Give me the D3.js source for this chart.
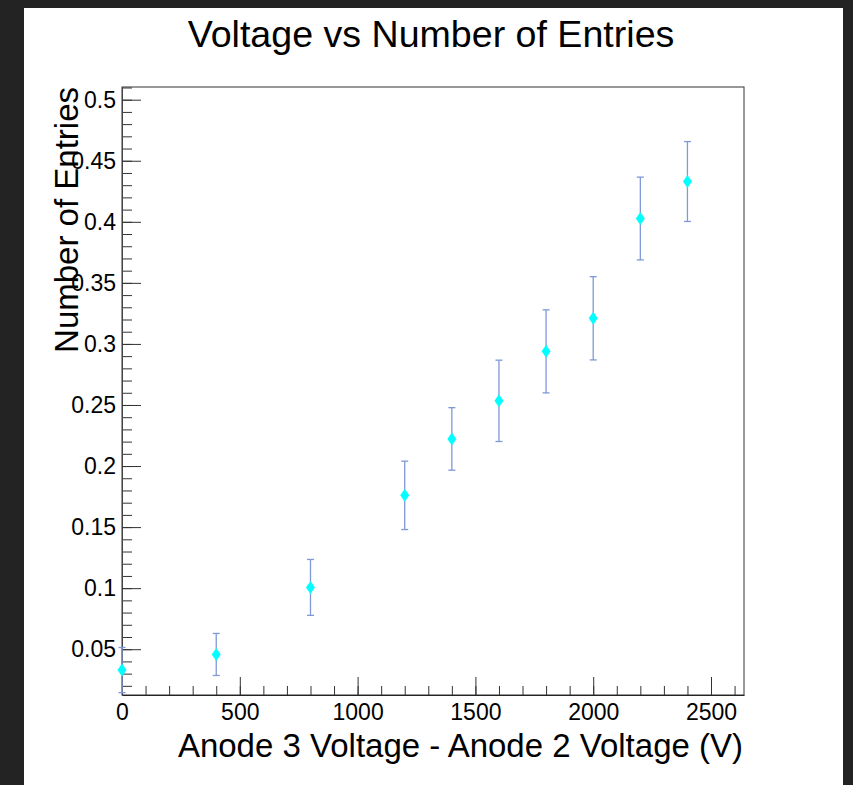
<!DOCTYPE html>
<html>
<head>
<meta charset="utf-8">
<script src="https://cdn.jsdelivr.net/npm/d3@7"></script>
<style>
  body { margin: 0; background: #232323; }
  svg { display: block; }
  text { font-family: "Liberation Sans", Arial, Helvetica, sans-serif; fill: #000; }
</style>
</head>
<body>
<div id="chart-area"></div>
<script>
// data
const voltages = [0, 400, 800, 1200, 1400, 1600, 1800, 2000, 2200, 2400];
const entries = [0.0329, 0.0457, 0.1006, 0.176, 0.2222, 0.2534, 0.2939, 0.321, 0.4027, 0.433];
const errors = [0.0185, 0.0172, 0.0229, 0.028, 0.0256, 0.0333, 0.034, 0.0341, 0.0339, 0.0327];
const xTicks = [0, 500, 1000, 1500, 2000, 2500];
const yTicks = [0.05, 0.1, 0.15, 0.2, 0.25, 0.3, 0.35, 0.4, 0.45, 0.5];
const yTickLabels = ["0.05", "0.1", "0.15", "0.2", "0.25", "0.3", "0.35", "0.4", "0.45", "0.5"];

const W = 853, H = 785;
const margin = { left: 122, right: 109, top: 87, bottom: 90 };
const width = W - margin.left - margin.right;
const height = H - margin.top - margin.bottom;

const svg = d3.select("#chart-area")
  .append("svg")
    .attr("width", W)
    .attr("height", H);

// white canvas on dark window
svg.append("rect")
  .attr("x", 24).attr("y", 8)
  .attr("width", 819).attr("height", 777)
  .attr("fill", "#fff");

const g = svg.append("g")
  .attr("transform", "translate(" + margin.left + "," + margin.top + ")");

const x = d3.scaleLinear()
  .domain([0, 2640])
  .range([0, width]);

const y = d3.scaleLinear()
  .domain([0.0125, 0.5104])
  .range([height, 0]);

// frame
g.append("rect")
  .attr("width", width).attr("height", height)
  .attr("fill", "none")
  .attr("stroke", "#333")
  .attr("stroke-width", 1);

// minor ticks
g.append("g")
  .attr("transform", "translate(0," + height + ")")
  .call(d3.axisBottom(x).tickValues(d3.range(0, 2700, 100)).tickSize(-9).tickSizeOuter(0).tickFormat(""))
  .call(s => s.select(".domain").remove())
  .selectAll("line").attr("stroke", "#333");

g.append("g")
  .call(d3.axisLeft(y).tickValues(d3.range(2, 52).map(d => d / 100)).tickSize(-10).tickSizeOuter(0).tickFormat(""))
  .call(s => s.select(".domain").remove())
  .selectAll("line").attr("stroke", "#333");

// major ticks + labels
const xAxisCall = d3.axisBottom(x)
  .tickValues(xTicks)
  .tickSize(-18)
  .tickSizeOuter(0)
  .tickPadding(9)
  .tickFormat(d3.format("d"));
const xAxis = g.append("g")
  .attr("class", "x axis")
  .attr("transform", "translate(0," + height + ")")
  .call(xAxisCall);
xAxis.selectAll("line").attr("stroke", "#333");
xAxis.select(".domain").attr("stroke", "#222");
xAxis.selectAll("text").attr("font-size", "23px").attr("font-family", null);

const yAxisCall = d3.axisLeft(y)
  .tickValues(yTicks)
  .tickSize(-19)
  .tickSizeOuter(0)
  .tickPadding(6)
  .tickFormat((d, i) => yTickLabels[i]);
const yAxis = g.append("g")
  .attr("class", "y axis")
  .call(yAxisCall);
yAxis.selectAll("line").attr("stroke", "#333");
yAxis.select(".domain").attr("stroke", "#444");
yAxis.selectAll("text").attr("font-size", "23px").attr("font-family", null);

// titles
svg.append("text")
  .attr("x", 431)
  .attr("y", 47)
  .attr("font-size", "37.6px")
  .attr("text-anchor", "middle")
  .text("Voltage vs Number of Entries");

g.append("text")
  .attr("class", "x axis-label")
  .attr("x", width - 1)
  .attr("y", height + 62)
  .attr("font-size", "33px")
  .attr("text-anchor", "end")
  .text("Anode 3 Voltage - Anode 2 Voltage (V)");

g.append("text")
  .attr("class", "y axis-label")
  .attr("x", 0)
  .attr("y", -44)
  .attr("font-size", "33px")
  .attr("text-anchor", "end")
  .attr("transform", "rotate(-90)")
  .text("Number of Entries");

// error bars
const pts = voltages.map((v, i) => ({ v: v, e: entries[i], err: errors[i] }));
const bars = g.selectAll(".err").data(pts).enter().append("g").attr("class", "err")
  .attr("stroke", "#7f98d8")
  .attr("stroke-width", 1.3);
bars.append("line")
  .attr("x1", d => x(d.v)).attr("x2", d => x(d.v))
  .attr("y1", d => y(d.e - d.err)).attr("y2", d => y(d.e + d.err));
bars.append("line")
  .attr("x1", d => x(d.v) - 3.5).attr("x2", d => x(d.v) + 3.5)
  .attr("y1", d => y(d.e + d.err)).attr("y2", d => y(d.e + d.err));
bars.append("line")
  .attr("x1", d => x(d.v) - 3.5).attr("x2", d => x(d.v) + 3.5)
  .attr("y1", d => y(d.e - d.err)).attr("y2", d => y(d.e - d.err));

// diamond markers
g.selectAll(".marker").data(pts).enter()
  .append("path")
  .attr("class", "marker")
  .attr("d", "M0,-6.5L4.5,0L0,6.5L-4.5,0Z")
  .attr("transform", d => "translate(" + x(d.v) + "," + y(d.e) + ")")
  .attr("fill", "#00ffff");
</script>
</body>
</html>
